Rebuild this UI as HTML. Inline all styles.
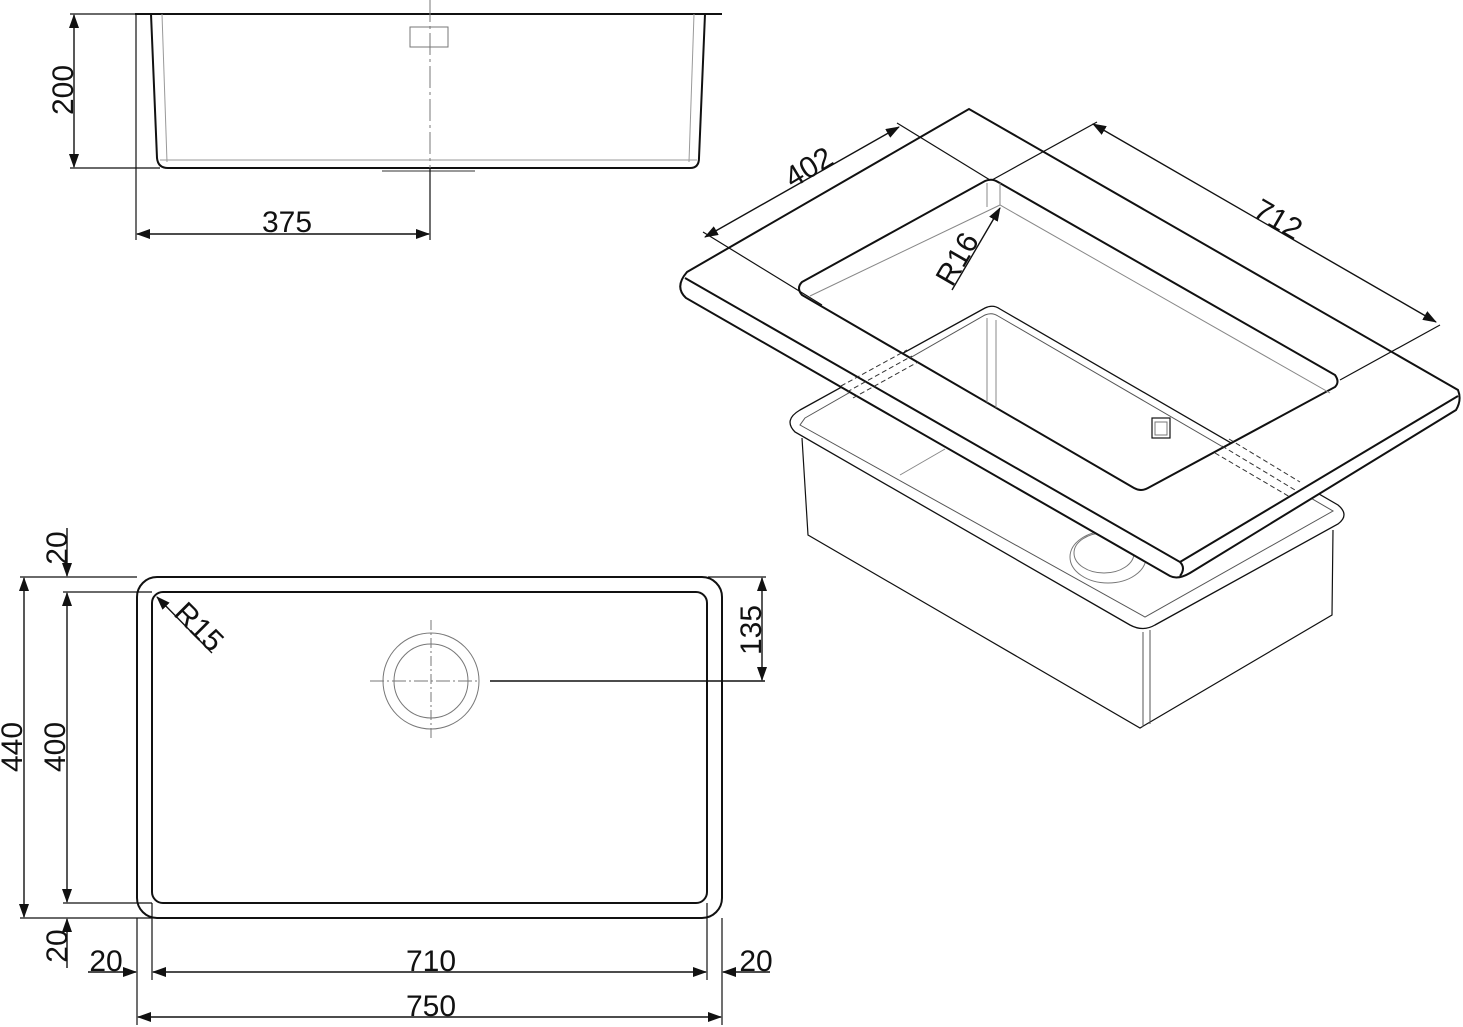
<!DOCTYPE html>
<html><head><meta charset="utf-8"><style>
html,body{margin:0;padding:0;background:#fff;}
svg{display:block;}
text{font-family:"Liberation Sans",Arial,sans-serif;font-size:30px;fill:#111;}
</style></head><body>
<svg width="1463" height="1027" viewBox="0 0 1463 1027" xmlns="http://www.w3.org/2000/svg">
<defs>
<marker id="a" markerWidth="14" markerHeight="10" refX="13" refY="5" orient="auto-start-reverse" markerUnits="userSpaceOnUse">
<path d="M0,0 L14,5 L0,10 Z" fill="#111"/></marker>
<clipPath id="cut"><path d="M802,282 L985,181 Q992,178 998,182 L1335,375 Q1340,382 1335,387 L1148,488 Q1141,492 1134,488 L802,295 Q796,288 802,282 Z"/></clipPath>
</defs>
<g fill="none" stroke="#111" stroke-width="1.6">
<line x1="135" y1="14" x2="722" y2="14" stroke-width="2"/>
<path d="M151,14 L157,158 Q158,168 168,168 L690,168 Q699,168 699,158 L705,14" stroke-width="2"/>
<path d="M162,14 L167,162 M694,14 L689,162 M160,160 L697,160" stroke="#999" stroke-width="1"/>
<line x1="382" y1="171" x2="475" y2="171" stroke="#999" stroke-width="2"/>
<rect x="410" y="27" width="38" height="20" stroke="#777" stroke-width="1"/>
<line x1="430" y1="0" x2="430" y2="168" stroke="#777" stroke-width="1" stroke-dasharray="22,4,3,4"/>
<line x1="430" y1="168" x2="430" y2="240" stroke-width="1.2"/>
<line x1="70" y1="14" x2="135" y2="14" stroke-width="1.2"/>
<line x1="70" y1="168" x2="160" y2="168" stroke-width="1.2"/>
<line x1="74" y1="15" x2="74" y2="167" marker-start="url(#a)" marker-end="url(#a)" stroke-width="1.4"/>
<line x1="136" y1="14" x2="136" y2="240" stroke-width="1.2"/>
<line x1="137" y1="234" x2="429" y2="234" marker-start="url(#a)" marker-end="url(#a)" stroke-width="1.4"/>

<rect x="137" y="577" width="585" height="341" rx="20" stroke-width="2"/>
<rect x="152" y="592" width="555" height="311" rx="11" stroke-width="2"/>
<circle cx="431" cy="681" r="48" stroke="#777" stroke-width="1"/>
<circle cx="431" cy="681" r="37" stroke="#777" stroke-width="1"/>
<line x1="431" y1="620" x2="431" y2="740" stroke="#777" stroke-width="1" stroke-dasharray="10,3,2,3"/>
<line x1="370" y1="681" x2="480" y2="681" stroke="#777" stroke-width="1" stroke-dasharray="14,3,2,3"/>
<line x1="490" y1="681" x2="765" y2="681" stroke-width="1.4"/>
<line x1="20" y1="577" x2="137" y2="577" stroke-width="1.2"/>
<line x1="20" y1="918" x2="152" y2="918" stroke-width="1.2"/>
<line x1="63" y1="592" x2="152" y2="592" stroke-width="1.2"/>
<line x1="63" y1="903" x2="152" y2="903" stroke-width="1.2"/>
<line x1="24" y1="578" x2="24" y2="917" marker-start="url(#a)" marker-end="url(#a)" stroke-width="1.4"/>
<line x1="67" y1="593" x2="67" y2="902" marker-start="url(#a)" marker-end="url(#a)" stroke-width="1.4"/>
<line x1="67" y1="528" x2="67" y2="576" marker-end="url(#a)" stroke-width="1.4"/>
<line x1="67" y1="968" x2="67" y2="919" marker-end="url(#a)" stroke-width="1.4"/>
<line x1="708" y1="577" x2="766" y2="577" stroke-width="1.2"/>
<line x1="762" y1="578" x2="762" y2="680" marker-start="url(#a)" marker-end="url(#a)" stroke-width="1.4"/>
<line x1="137" y1="918" x2="137" y2="1025" stroke-width="1.2"/>
<line x1="722" y1="918" x2="722" y2="1025" stroke-width="1.2"/>
<line x1="152" y1="903" x2="152" y2="980" stroke-width="1.2"/>
<line x1="707" y1="903" x2="707" y2="980" stroke-width="1.2"/>
<line x1="153" y1="972" x2="706" y2="972" marker-start="url(#a)" marker-end="url(#a)" stroke-width="1.4"/>
<line x1="138" y1="1017" x2="721" y2="1017" marker-start="url(#a)" marker-end="url(#a)" stroke-width="1.4"/>
<line x1="88" y1="972" x2="136" y2="972" marker-end="url(#a)" stroke-width="1.4"/>
<line x1="770" y1="972" x2="723" y2="972" marker-end="url(#a)" stroke-width="1.4"/>
<line x1="212" y1="653" x2="157" y2="597" marker-end="url(#a)" stroke-width="1.4"/>

<g>
<path d="M800,410 L985,308 Q993,304 1000,309 L1338,505 Q1350,515 1338,524 L1155,625 Q1143,632 1130,625 L795,432 Q783,420 800,410 Z" stroke-width="1.3"/>
<path d="M805,418 L985,315 Q992,312 998,316 L1333,511 L1145,617 L800,425 Z" stroke="#555" stroke-width="1"/>
<path d="M802,438 L808,535 L1140,728 L1332,615 L1333,530" stroke-width="1.2"/>
<line x1="1143" y1="632" x2="1143" y2="727" stroke="#555" stroke-width="1"/>
<line x1="1150" y1="630" x2="1150" y2="724" stroke="#555" stroke-width="1"/>
<ellipse cx="1108" cy="557" rx="38" ry="26" stroke="#777" stroke-width="1"/>
<ellipse cx="1104" cy="553" rx="30" ry="20" stroke="#777" stroke-width="1"/>
<line x1="900" y1="475" x2="945" y2="449" stroke="#888" stroke-width="1"/>
</g>
<path d="M687,272 L969,109 L1458,390 Q1462,400 1456,410 L1190,573 Q1178,580 1170,576 L686,298 Q674,287 687,272 Z" fill="#fff" stroke-width="2"/>
<path d="M685,278 L1180,562 Q1186,568 1180,576" stroke-width="2"/>
<line x1="1180" y1="562" x2="1458" y2="396" stroke-width="2"/>
<path d="M802,282 L985,181 Q992,178 998,182 L1335,375 Q1340,382 1335,387 L1148,488 Q1141,492 1134,488 L802,295 Q796,288 802,282 Z" fill="#fff" stroke-width="2"/>
<g clip-path="url(#cut)">
<path d="M800,410 L985,308 Q993,304 1000,309 L1338,505" stroke-width="1.3"/>
<path d="M805,418 L985,315 Q992,312 998,316 L1333,511" stroke="#555" stroke-width="1"/>
<line x1="987" y1="318" x2="987" y2="427" stroke="#888" stroke-width="1"/>
<line x1="996" y1="320" x2="996" y2="422" stroke="#888" stroke-width="1"/>
<path d="M987,427 L1145,518 M996,422 L1150,510" stroke="#555" stroke-width="1" stroke-dasharray="5,3"/>
<path d="M987,427 L900,477" stroke="#555" stroke-width="1" stroke-dasharray="5,3"/>
<rect x="1152" y="418" width="18" height="20" stroke-width="1.2"/>
<rect x="1155" y="422" width="12" height="13" stroke="#777" stroke-width="1"/>
</g>
<path d="M810,296 L1000,205 L1330,393" stroke="#888" stroke-width="1"/>
<line x1="987" y1="183" x2="987" y2="207" stroke="#888" stroke-width="1"/>
<line x1="1000" y1="183" x2="1000" y2="205" stroke="#888" stroke-width="1"/>
<path d="M841,386 L907,350 M847,392 L912,356 M853,398 L918,362" stroke="#333" stroke-width="1" stroke-dasharray="5,3"/>
<path d="M1229,439 L1300,482 M1222,446 L1295,490 M1215,453 L1290,497" stroke="#333" stroke-width="1" stroke-dasharray="5,3"/>
<line x1="705" y1="237" x2="899" y2="127" marker-start="url(#a)" marker-end="url(#a)" stroke-width="1.4"/>
<line x1="703" y1="232" x2="822" y2="305" stroke-width="1.2"/>
<line x1="897" y1="123" x2="990" y2="180" stroke-width="1.2"/>
<line x1="1093" y1="124" x2="1436" y2="322" marker-start="url(#a)" marker-end="url(#a)" stroke-width="1.4"/>
<line x1="1097" y1="122" x2="992" y2="180" stroke-width="1.2"/>
<line x1="1440" y1="325" x2="1340" y2="380" stroke-width="1.2"/>
<line x1="952" y1="290" x2="1000" y2="208" marker-end="url(#a)" stroke-width="1.4"/>
</g>
<text x="0" y="0" text-anchor="middle" transform="translate(73,90) rotate(-90)">200</text>
<text x="287" y="232" text-anchor="middle">375</text>
<text x="0" y="0" text-anchor="middle" transform="translate(67,548) rotate(-90)">20</text>
<text x="0" y="0" text-anchor="middle" transform="translate(67,946) rotate(-90)">20</text>
<text x="0" y="0" text-anchor="middle" transform="translate(22,747) rotate(-90)">440</text>
<text x="0" y="0" text-anchor="middle" transform="translate(65,747) rotate(-90)">400</text>
<text x="0" y="0" text-anchor="middle" transform="translate(761,630) rotate(-90)">135</text>
<text x="431" y="971" text-anchor="middle">710</text>
<text x="431" y="1016" text-anchor="middle">750</text>
<text x="106" y="971" text-anchor="middle">20</text>
<text x="756" y="971" text-anchor="middle">20</text>
<text x="0" y="0" text-anchor="middle" transform="translate(192,634) rotate(45)">R15</text>
<text x="0" y="0" text-anchor="middle" transform="translate(814,176) rotate(-31)">402</text>
<text x="0" y="0" text-anchor="middle" transform="translate(1273,228) rotate(30)">712</text>
<text x="0" y="0" text-anchor="middle" transform="translate(966,264) rotate(-60)">R16</text>
</svg>
</body></html>
